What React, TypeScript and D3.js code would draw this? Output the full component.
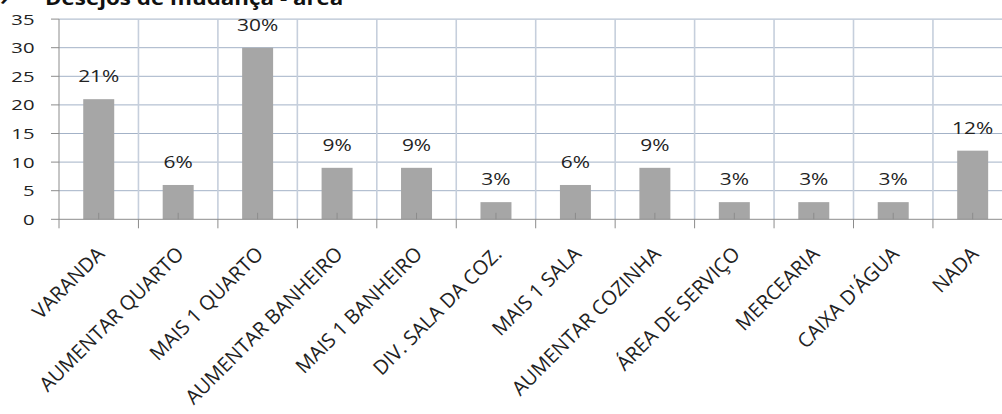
import React from "react";
import * as d3 from "d3";

// Respostas sobre o desejo de mudança na área da casa
const categories = [
  "VARANDA",
  "AUMENTAR QUARTO",
  "MAIS 1 QUARTO",
  "AUMENTAR BANHEIRO",
  "MAIS 1 BANHEIRO",
  "DIV. SALA DA COZ.",
  "MAIS 1 SALA",
  "AUMENTAR COZINHA",
  "ÁREA DE SERVIÇO",
  "MERCEARIA",
  "CAIXA D'ÁGUA",
  "NADA",
];
const values = [21, 6, 30, 9, 9, 3, 6, 9, 3, 3, 3, 12];
const yTicks = [0, 5, 10, 15, 20, 25, 30, 35];
const titleMark = "›";
const title = "Desejos de mudança - área";

const W = 1002;
const H = 414;
const FONT = "'Open Sans', 'Noto Sans', sans-serif";
const TEXT = "#222222";
// horizontal lettering is drawn a little wide
const SX = 1.35;

export default function App() {
  const left = 59;
  const right = 1012.4;
  const top = 19.1;
  const bottom = 219.3;

  const xCat = d3.scaleBand<string>().domain(categories).range([left, right]).padding(0);
  const step = xCat.step();
  const barW = step * 0.39;
  const y = d3.scaleLinear().domain([0, 35]).range([bottom, top]);

  const bounds = d3.range(categories.length + 1).map((i) => left + i * step);

  return (
    <svg
      width={W}
      height={H}
      viewBox={`0 0 ${W} ${H}`}
      style={{ position: "absolute", left: 0, top: 0, background: "#fff" }}
      fontFamily={FONT}
    >
      {/* title, partly above the frame */}
      <text transform={`translate(0,4.5) scale(1.12,1)`} fontSize={20} fontWeight="bold" fill="#111">
        {titleMark}
      </text>
      <text transform={`translate(45,4.5) scale(1.12,1)`} fontSize={20} fontWeight="bold" fill="#111">
        {title}
      </text>

      {/* horizontal gridlines */}
      {yTicks.filter((t) => t > 0).map((t) => (
        <line key={`h${t}`} x1={left} x2={right} y1={y(t)} y2={y(t)} stroke="#A3B2C7" strokeWidth={1} />
      ))}
      {/* vertical gridlines between categories */}
      {bounds.slice(1).map((bx, i) => (
        <line key={`v${i}`} x1={bx} x2={bx} y1={top} y2={bottom} stroke="#C6CFDC" strokeWidth={1.6} />
      ))}

      {/* bars */}
      {categories.map((c, i) => (
        <rect
          key={c}
          x={(xCat(c) as number) + (step - barW) / 2}
          y={y(values[i])}
          width={barW}
          height={y(0) - y(values[i])}
          fill="#A6A6A6"
        />
      ))}

      {/* axes */}
      <line x1={left} x2={left} y1={top} y2={bottom} stroke="#8C8C8C" strokeWidth={1} />
      <line x1={left} x2={right} y1={bottom} y2={bottom} stroke="#8C8C8C" strokeWidth={1} />
      {yTicks.map((t) => (
        <line key={`yt${t}`} x1={51} x2={left} y1={y(t)} y2={y(t)} stroke="#8C8C8C" strokeWidth={1} />
      ))}
      {bounds.map((bx, i) => (
        <line key={`xt${i}`} x1={bx} x2={bx} y1={bottom} y2={bottom + 9} stroke="#8C8C8C" strokeWidth={1} />
      ))}
      {categories.map((c) => {
        const cx = (xCat(c) as number) + step / 2;
        return <line key={`m${c}`} x1={cx} x2={cx} y1={bottom - 6.5} y2={bottom} stroke="#8C8C8C" strokeWidth={1} />;
      })}

      {/* y tick labels */}
      {yTicks.map((t) => (
        <text
          key={`yl${t}`}
          transform={`translate(34.5,${y(t)}) scale(${SX},1)`}
          textAnchor="end"
          dy="0.36em"
          fontSize={15}
          fill={TEXT}
        >
          {t}
        </text>
      ))}

      {/* value labels */}
      {categories.map((c, i) => {
        const cx = (xCat(c) as number) + step / 2;
        return (
          <text
            key={`vl${c}`}
            transform={`translate(${cx},${y(values[i]) - 17}) scale(${SX},1)`}
            textAnchor="middle"
            fontSize={15.5}
            fill={TEXT}
          >
            {`${values[i]}%`}
          </text>
        );
      })}

      {/* category labels */}
      {categories.map((c) => {
        const cx = (xCat(c) as number) + step / 2;
        return (
          <text
            key={`cl${c}`}
            transform={`translate(${cx + 2},${bottom + 31}) rotate(-45)`}
            textAnchor="end"
            dy="0.35em"
            fontSize={20}
            fill={TEXT}
          >
            {c}
          </text>
        );
      })}
    </svg>
  );
}
